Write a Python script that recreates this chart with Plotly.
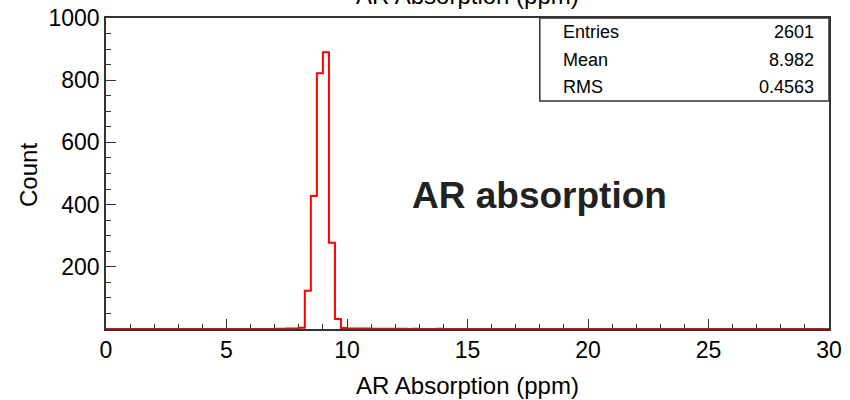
import numpy as np
import plotly.graph_objects as go

# Histogram binning
x_min, x_max = 0.0, 30.0
bin_width = 0.25
# Bin contents starting at 7.0 ppm (all other bins are empty)
first_filled_edge = 7.0
filled_counts = [1, 1, 2, 2, 4,
                 123, 428, 822, 890, 277, 32,
                 3, 2, 2, 2, 2, 1, 1, 1, 1, 1, 1, 0, 1, 0, 0, 0, 1]

stat_labels = ["Entries", "Mean", "RMS"]
stat_values = ["2601", "8.982", "0.4563"]

y_tickvals = [200, 400, 600, 800, 1000]

n_bins = int(round((x_max - x_min) / bin_width))
edges = np.linspace(x_min, x_max, n_bins + 1)
counts = np.zeros(n_bins)
i0 = int(round((first_filled_edge - x_min) / bin_width))
counts[i0:i0 + len(filled_counts)] = filled_counts
step_y = np.append(counts, counts[-1])

FONT = "Liberation Sans, Arial, Helvetica, sans-serif"
AXIS_COLOR = "#333333"

fig = go.Figure()
fig.add_trace(go.Scatter(
    x=edges, y=step_y, mode="lines", line_shape="hv",
    line=dict(color="#ff0000", width=2), showlegend=False, hoverinfo="skip",
))

fig.update_layout(
    width=850, height=400,
    margin=dict(l=106, r=21, t=18, b=71),
    paper_bgcolor="white", plot_bgcolor="white",
    font=dict(family=FONT, color="black"),
    showlegend=False,
)

fig.update_xaxes(
    range=[x_min, x_max], showgrid=False, zeroline=False, automargin=False,
    showline=True, mirror=True, linecolor=AXIS_COLOR, linewidth=1.5,
    ticks="inside", ticklen=10, tickwidth=1.2, tickcolor=AXIS_COLOR,
    tickmode="linear", tick0=0, dtick=5,
    minor=dict(ticks="inside", ticklen=5, tickwidth=1, tickcolor=AXIS_COLOR,
               tickmode="linear", tick0=0, dtick=1, showgrid=False),
    tickfont=dict(size=23, family=FONT, color="black"),
    title=dict(text="AR Absorption (ppm)", font=dict(size=24, family=FONT, color="black")),
    layer="below traces",
)

fig.update_yaxes(
    range=[0, 1000], showgrid=False, zeroline=False, automargin=False,
    showline=True, mirror=True, linecolor=AXIS_COLOR, linewidth=1.5,
    ticks="inside", ticklen=10, tickwidth=1.2, tickcolor=AXIS_COLOR,
    tickmode="array", tickvals=y_tickvals,
    minor=dict(ticks="inside", ticklen=5, tickwidth=1, tickcolor=AXIS_COLOR,
               tickmode="linear", tick0=0, dtick=50, showgrid=False),
    tickfont=dict(size=23, family=FONT, color="black"),
)

# Vertical axis title
fig.add_annotation(x=-0.108, y=0.495, xref="paper", yref="paper",
                   text="Count", showarrow=False, textangle=-90,
                   xanchor="center", yanchor="middle",
                   font=dict(size=24, family=FONT, color="black"))

# Statistics box in the upper-right corner
box_x0, box_x1 = 0.600, 1.0
box_y0, box_y1 = 0.733, 1.0
fig.add_shape(type="rect", xref="paper", yref="paper",
              x0=box_x0, x1=box_x1, y0=box_y0, y1=box_y1,
              line=dict(color=AXIS_COLOR, width=1.5), fillcolor="white", layer="above")
row_h = (box_y1 - box_y0) / len(stat_labels)
for k, (lab, val) in enumerate(zip(stat_labels, stat_values)):
    yc = box_y1 - (k + 0.5) * row_h
    fig.add_annotation(x=box_x0 + 0.03, y=yc, xref="paper", yref="paper",
                       text=lab, showarrow=False, xanchor="left", yanchor="middle",
                       font=dict(size=18, family=FONT, color="black"))
    fig.add_annotation(x=box_x1 - 0.018, y=yc, xref="paper", yref="paper",
                       text=val, showarrow=False, xanchor="right", yanchor="middle",
                       font=dict(size=18, family=FONT, color="black"))

# Large label inside the frame
fig.add_annotation(x=0.60, y=0.43, xref="paper", yref="paper",
                   text="<b>AR absorption</b>", showarrow=False,
                   xanchor="center", yanchor="middle",
                   font=dict(size=37, family=FONT, color="#222222"))

# Histogram title above the frame
fig.add_annotation(x=0.5, y=1.071, xref="paper", yref="paper",
                   text="AR Absorption (ppm)", showarrow=False,
                   xanchor="center", yanchor="middle",
                   font=dict(size=24, family=FONT, color="black"))

fig.write_html("out.html")
